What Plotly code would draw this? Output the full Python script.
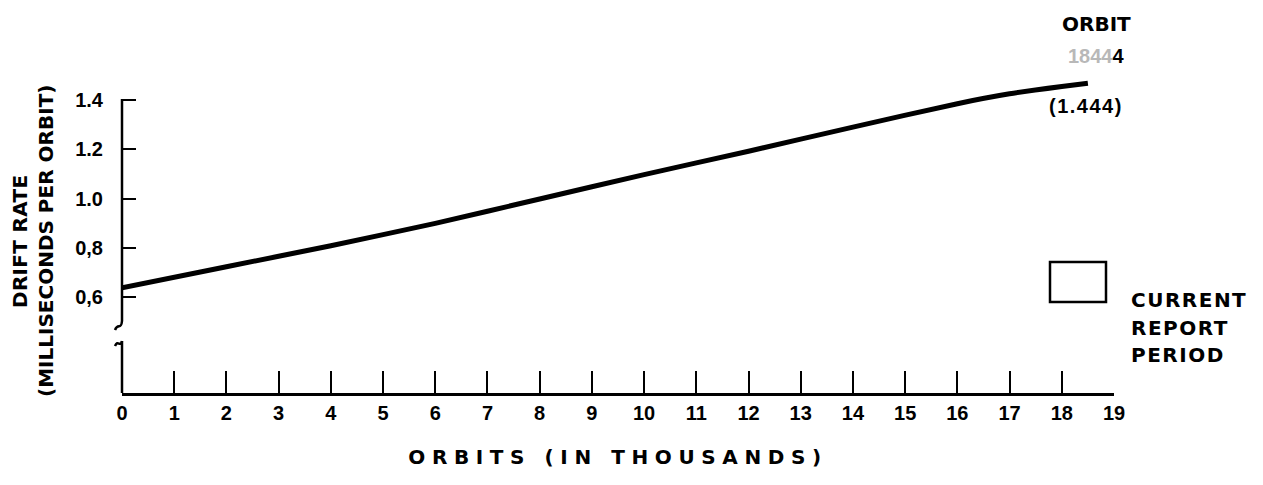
import plotly.graph_objects as go

# drift rate curve
orbits_k = [0, 2, 4, 6, 8, 10, 12, 14, 16, 17, 18, 18.5]
drift_rate = [0.637, 0.723, 0.808, 0.899, 0.998, 1.097, 1.192, 1.29, 1.385, 1.425, 1.455, 1.468]

x_ticks = list(range(0, 20))
y_ticks = [0.6, 0.8, 1.0, 1.2, 1.4]
y_tick_text = ["0,6", "0,8", "1.0", "1.2", "1.4"]

WORD_FONT = "DejaVu Sans"
NUM_FONT = "Liberation Sans"
OFF = 8  # page body margin
W, H = 1255, 477
L, R, T, B = 114, 149, 42, 92
PW, PH = W - L - R, H - T - B


def pxx(x):
    return (x - OFF - L) / PW


def pxy(y):
    return (H - B - (y - OFF)) / PH


def bold(s, spacing=0):
    if spacing:
        return f"<span style='letter-spacing:{spacing}px'><b>{s}</b></span>"
    return f"<b>{s}</b>"


fig = go.Figure()
fig.add_trace(go.Scatter(
    x=orbits_k, y=drift_rate, mode="lines",
    line=dict(color="black", width=5, shape="spline", smoothing=0.5),
    cliponaxis=False, hoverinfo="skip", showlegend=False,
))

line = dict(color="black", width=2.5)
shapes = [
    # broken y axis
    dict(type="line", xref="paper", yref="paper", x0=pxx(122), x1=pxx(122), y0=pxy(99), y1=pxy(321), line=line),
    dict(type="path", xref="paper", yref="paper",
         path=f"M{pxx(115)},{pxy(330)} C{pxx(118)},{pxy(322)} {pxx(121)},{pxy(331)} {pxx(122)},{pxy(321)}",
         line=line),
    dict(type="path", xref="paper", yref="paper",
         path=f"M{pxx(115)},{pxy(346)} C{pxx(118)},{pxy(339)} {pxx(120)},{pxy(348)} {pxx(122)},{pxy(341)}",
         line=line),
    dict(type="line", xref="paper", yref="paper", x0=pxx(122), x1=pxx(122), y0=pxy(341), y1=0, line=line),
    # legend box
    dict(type="rect", xref="paper", yref="paper", x0=pxx(1050), x1=pxx(1106), y0=pxy(302), y1=pxy(262),
         line=dict(color="black", width=2.5)),
]

wfont = dict(family=WORD_FONT, size=20, color="black")
nfont = dict(family=NUM_FONT, size=20, color="black")


def note(x, y, text, font, angle=0, anchor="center"):
    return dict(xref="paper", yref="paper", x=pxx(x), y=pxy(y), text=text, font=font,
                textangle=angle, xanchor=anchor, yanchor="middle", showarrow=False)


annotations = [
    note(20, 242, bold("DRIFT RATE", 0.3), wfont, -90),
    note(46, 241, bold("(MILLISECONDS PER ORBIT)"), wfont, -90),
    note(1096, 24, bold("ORBIT"), wfont),
    note(1096, 56, "<b><span style='color:#b8b8b8'>1844</span>4</b>", nfont),
    note(1086, 106, bold("(1.444)", 1.5), nfont),
    note(1129, 300, bold("CURRENT", 1.5), wfont, anchor="left"),
    note(1129, 328, bold("REPORT", 1.5), wfont, anchor="left"),
    note(1129, 355, bold("PERIOD", 1.5), wfont, anchor="left"),
]

fig.update_layout(
    width=W, height=H,
    margin=dict(l=L, r=R, t=T, b=B),
    paper_bgcolor="white", plot_bgcolor="white",
    font=dict(family=WORD_FONT, color="black"),
    shapes=shapes, annotations=annotations,
    showlegend=False,
)

fig.update_xaxes(
    range=[0, 19], tickvals=x_ticks, ticktext=[bold(v) for v in x_ticks],
    ticks="inside", ticklen=22, tickwidth=2, tickcolor="black",
    showline=True, linecolor="black", linewidth=2.5,
    showgrid=False, zeroline=False, ticklabelstandoff=0,
    tickfont=nfont,
    title=dict(text=bold("ORBITS (IN THOUSANDS)", 6.6), standoff=28, font=wfont),
)
fig.update_yaxes(
    range=[0.6 - 96 / 246.25, 1.4 + 50 / 246.25],
    tickvals=y_ticks, ticktext=[bold(t) for t in y_tick_text],
    ticks="inside", ticklen=14, tickwidth=2, tickcolor="black",
    showline=False, showgrid=False, zeroline=False, ticklabelstandoff=18,
    tickfont=nfont,
)

fig.write_html("out.html")
